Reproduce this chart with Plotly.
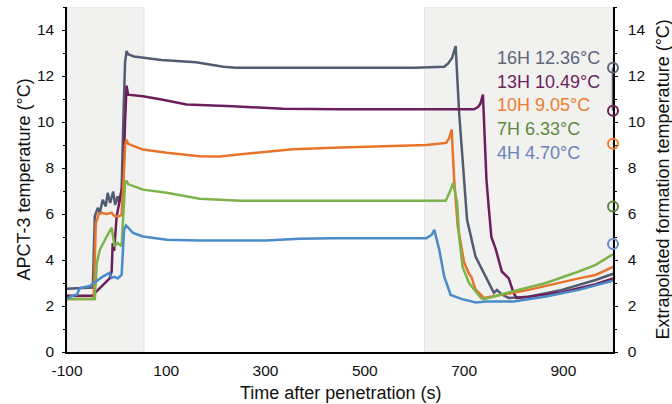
import plotly.graph_objects as go

# ---------------- data ----------------
t16 = [-100,-48,-44,-38,-34,-28,-22,-18,-13,-7,-3,2,5,10,14,17,20,23,35,53,90,160,190,215,240,400,600,660,668,676,683,690,697,706,723,750,760,766,776,790,830,897,965,1000]
y16 = [2.75,2.8,5.9,6.27,6.05,6.62,6.33,6.92,6.48,6.98,6.4,6.77,6.5,7.05,10.5,12.6,13.08,12.95,12.85,12.8,12.7,12.6,12.5,12.4,12.36,12.36,12.36,12.4,12.55,12.8,13.3,10.4,8.2,5.75,4.15,3.0,2.57,2.7,2.5,2.35,2.4,2.7,3.13,3.4]

t13 = [-100,-48,-44,-14,-10,-8,-5,0,6.5,13,17,20,23,53,93,141,234,335,450,600,720,728,733,738,745,750,755,764,776,790,800,806,830,897,965,1000]
y13 = [2.45,2.45,2.56,3.2,3.5,4.73,4.4,5.9,6.62,7.35,10.0,11.58,11.19,11.12,10.97,10.76,10.68,10.58,10.55,10.55,10.55,10.65,10.8,11.19,7.5,6.2,5.0,4.45,3.5,3.2,2.55,2.35,2.4,2.6,2.95,3.2]

t10 = [-100,-46,-42,-36,-30,-20,-10,-4,5,10,14,17,20,23,53,101,167,208,250,302,355,435,520,624,664,670,675,680,687,694,700,710,715,720,724,740,830,931,965,1000]
y10 = [2.3,2.3,5.6,6.0,6.05,6.0,6.05,5.9,5.9,5.95,7.5,9.0,9.23,9.05,8.8,8.66,8.51,8.5,8.6,8.7,8.82,8.88,8.92,9.0,9.09,9.3,9.67,7.5,5.5,4.6,3.9,3.4,3.25,2.9,2.7,2.35,2.7,3.2,3.35,3.7]

t7 = [-100,-44,-40,-34,-20,-10,-4,2,10,14,17,20,23,53,101,167,250,400,663,670,678,686,690,697,710,734,740,797,865,931,965,1000]
y7 = [2.3,2.3,3.86,4.44,5.02,5.4,4.59,4.74,4.6,6.0,7.35,7.45,7.3,7.06,6.92,6.66,6.58,6.58,6.58,6.9,7.35,6.5,5.0,3.7,3.0,2.35,2.3,2.63,3.0,3.5,3.79,4.25]

t4 = [-100,-94,-80,-74,-54,-40,-28,-14,-10,-4,2,10,15,19,33,53,101,167,301,368,435,624,635,640,650,660,673,696,724,744,800,865,931,1000]
y4 = [2.3,2.4,2.5,2.78,2.87,3.1,3.28,3.44,3.22,3.27,3.2,3.35,5.3,5.5,5.18,5.02,4.88,4.85,4.85,4.92,4.95,4.95,5.1,5.31,4.44,3.28,2.48,2.3,2.15,2.2,2.2,2.41,2.7,3.1]

labels = ["16H", "13H", "10H", "7H", "4H"]
formation = [12.36, 10.49, 9.05, 6.33, 4.70]
line_colors = ["#525c70", "#6c1f5b", "#e8732b", "#7cb34b", "#4b8bc8"]
text_colors = ["#5d667a", "#6c1f5b", "#ef7d2c", "#5b8b3d", "#6783bb"]
marker_colors = ["#5d667a", "#6c1f5b", "#ef8030", "#5b8b3d", "#6a8bc9"]

shade_regions = [(-100, 55), (620, 1000)]
x_ticks = [-100, 100, 300, 500, 700, 900]
x_ticktext = ["-100", "100", "300", "500", "700", "900"]
y_ticks = [0, 2, 4, 6, 8, 10, 12, 14]
label_x = 762
label_y = [12.8, 11.76, 10.76, 9.71, 8.67]

FONT = "Liberation Sans, Arial, Helvetica, sans-serif"

fig = go.Figure()

series = [(t16, y16), (t13, y13), (t10, y10), (t7, y7), (t4, y4)]
for (tt, yy), c, name in zip(series, line_colors, labels):
    fig.add_trace(go.Scatter(x=tt, y=yy, mode="lines", name=name,
                             line=dict(color=c, width=2.5), showlegend=False))

# connecting line between 16H and 13H formation temperatures
fig.add_trace(go.Scatter(x=[1000, 1000], y=[formation[0], formation[1]], mode="lines",
                         line=dict(color="#5d667a", width=2.5), showlegend=False,
                         cliponaxis=False, yaxis="y2"))

fig.add_trace(go.Scatter(x=[1000]*len(formation), y=formation, mode="markers",
                         marker=dict(symbol="circle-open", size=10,
                                     color=marker_colors, line=dict(width=2, color=marker_colors)),
                         showlegend=False, cliponaxis=False, yaxis="y2"))

for x0, x1 in shade_regions:
    fig.add_shape(type="rect", xref="x", yref="y", x0=x0, x1=x1, y0=0, y1=15,
                  fillcolor="#f1f1f0", line=dict(color="#e2e2e2", width=1), layer="below")

for lab, val, yv, tc in zip(labels, formation, label_y, text_colors):
    fig.add_annotation(x=label_x, y=yv, xref="x", yref="y", text=f"{lab} {val:.2f}°C",
                       showarrow=False, xanchor="left", yanchor="middle",
                       font=dict(family=FONT, size=18, color=tc))

# axis titles
fig.add_annotation(x=0, y=0.5, xref="paper", yref="paper", xshift=-44, text="APCT-3 temperature (°C)",
                   textangle=-90, showarrow=False, xanchor="center", yanchor="middle",
                   font=dict(family=FONT, size=18, color="#111"))
fig.add_annotation(x=1, y=0.5, xref="paper", yref="paper", xshift=49,
                   text="Extrapolated formation temperature (°C)",
                   textangle=-90, showarrow=False, xanchor="center", yanchor="middle",
                   font=dict(family=FONT, size=18, color="#111"))
fig.add_annotation(x=0.5, y=0, xref="paper", yref="paper", yshift=-41,
                   text="Time after penetration (s)", showarrow=False,
                   xanchor="center", yanchor="middle",
                   font=dict(family=FONT, size=18, color="#111"))

fig.update_layout(
    width=672, height=404,
    margin=dict(l=67, r=59, t=7, b=52),
    paper_bgcolor="white", plot_bgcolor="white",
    font=dict(family=FONT, size=15.5, color="#111"),
    xaxis=dict(range=[-100, 1000], tickvals=x_ticks, ticktext=x_ticktext,
               showgrid=False, zeroline=False,
               showline=True, linecolor="black", linewidth=1.5, ticks="",
               ticklabelstandoff=4, tickfont=dict(size=15.5)),
    yaxis=dict(range=[0, 15], tickvals=y_ticks, showgrid=False, zeroline=False,
               showline=True, linecolor="black", linewidth=1.5, ticks="outside",
               ticklen=3, tickwidth=1, tickcolor="black", ticklabelstandoff=5,
               minor=dict(dtick=1, ticks="outside", ticklen=2, tickcolor="black"),
               tickfont=dict(size=15.5)),
    yaxis2=dict(range=[0, 15], tickvals=y_ticks, overlaying="y", side="right",
                showgrid=False, zeroline=False, showline=True, linecolor="black",
                linewidth=1.5, ticks="outside", ticklen=3, tickwidth=1, tickcolor="black",
                ticklabelstandoff=7,
                minor=dict(dtick=1, ticks="outside", ticklen=2, tickcolor="black"),
                layer="below traces", tickfont=dict(size=15.5)),
)

fig.write_html("out.html")
